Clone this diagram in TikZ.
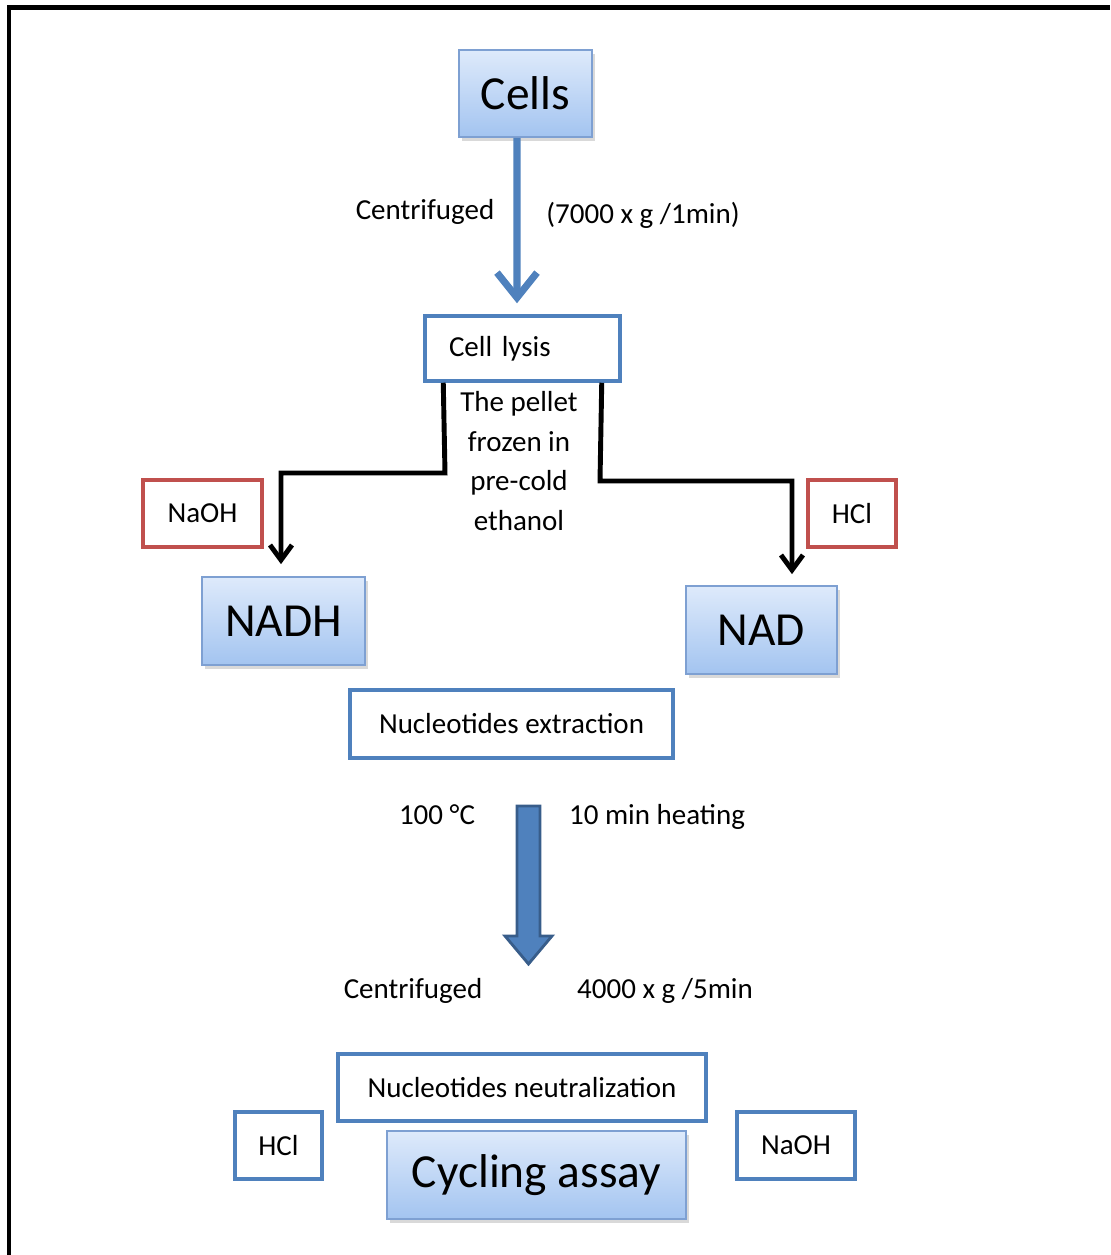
\documentclass[tikz,border=0pt]{standalone}
\usepackage{fontspec}
\setmainfont{Carlito}
\usepackage{tikz}
\usetikzlibrary{shapes, arrows.meta, shadows}
\definecolor{bluetop}{RGB}{222,234,251}
\definecolor{bluebot}{RGB}{163,196,240}
\definecolor{blueedge}{RGB}{126,160,210}
\definecolor{boxblue}{RGB}{79,129,189}
\definecolor{boxred}{RGB}{192,80,77}
\definecolor{darkblue}{RGB}{56,93,138}
\tikzstyle{block} = [draw=blueedge, line width=1pt, top color=bluetop, bottom color=bluebot, font=\fontsize{27}{32}\selectfont, drop shadow={shadow xshift=1.5pt, shadow yshift=-2pt, opacity=0.3}]
\tikzstyle{stepbox} = [draw=boxblue, line width=2pt, fill=white, font=\fontsize{16.5}{20}\selectfont]
\tikzstyle{reagent} = [draw=boxred, line width=2pt, fill=white, font=\fontsize{16.5}{20}\selectfont]
\tikzstyle{lbl} = [font=\fontsize{16.5}{20}\selectfont]

\begin{document}
\begin{tikzpicture}[x=0.02cm, y=-0.02cm, >={Straight Barb[length=0.3cm, width=0.44cm]}]
    % 样式
    \tikzstyle{bluearrow} = [draw=boxblue, line width=4pt, -{Straight Barb[length=0.5cm, width=0.8cm]}]
    \tikzstyle{blackarrow} = [draw=black, line width=2.8pt, ->]
    \useasboundingbox (0,0) rectangle (1110,1255);

    % 边框
    \draw [line width=0.1cm] (9,1255) -- (9,7) -- (1110,7);

    % 方框
    \node [block, minimum width=2.66cm, minimum height=1.74cm] (cells) at (525.5,93.5) {Cells};
    \node [stepbox, minimum width=3.9cm, minimum height=1.3cm, text width=2.94cm, inner xsep=0.48cm, align=left] (lysis) at (522.5,348.5) {Cell lysis};
    \node [reagent, minimum width=2.38cm, minimum height=1.34cm] (naoh1) at (202.5,513.5) {NaOH};
    \node [reagent, minimum width=1.76cm, minimum height=1.34cm] (hcl1) at (852,513.5) {HCl};
    \node [block, minimum width=3.26cm, minimum height=1.76cm] (nadh) at (283.5,621) {NADH};
    \node [block, minimum width=3.02cm, minimum height=1.76cm] (nad) at (761.5,630) {NAD};
    \node [stepbox, minimum width=6.46cm, minimum height=1.36cm] (extract) at (511.5,724) {Nucleotides extraction};
    \node [stepbox, minimum width=7.36cm, minimum height=1.34cm] (neutral) at (522,1087.5) {Nucleotides neutralization};
    \node [block, minimum width=5.98cm, minimum height=1.76cm] (cycling) at (536.5,1175) {Cycling assay};
    \node [stepbox, minimum width=1.74cm, minimum height=1.34cm] (hcl2) at (278.5,1145.5) {HCl};
    \node [stepbox, minimum width=2.36cm, minimum height=1.34cm] (naoh2) at (796,1145.5) {NaOH};

    % 文字
    \node [lbl] (cent1) at (425,212) {Centrifuged};
    \node [lbl] (speed1) at (643,215) {(7000 x g /1min)};
    \node [lbl, align=center, font=\fontsize{16.5}{22.7}\selectfont] (pellet) at (519,461) {The pellet\\frozen in\\pre-cold\\ethanol};
    \node [lbl] (temp) at (437,815) {100 °C};
    \node [lbl] (heat) at (657,817) {10 min heating};
    \node [lbl] (cent2) at (413,991) {Centrifuged};
    \node [lbl] (speed2) at (665,991) {4000 x g /5min};

    % 箭头
    \draw [bluearrow] ([xshift=-0.17cm]cells.south) -- ([xshift=-0.11cm, yshift=0.22cm]lysis.north);
    \coordinate (left) at (445,473);
    \coordinate (right) at (600,481);
    \draw [blackarrow] ([xshift=0.4cm]lysis.south west) -- (left) -| ([xshift=-0.05cm, yshift=0.24cm]nadh.north);
    \draw [blackarrow] ([xshift=-0.4cm]lysis.south east) -- (right) -| ([xshift=0.61cm, yshift=0.22cm]nad.north);
    \filldraw [fill=boxblue, draw=darkblue, line width=1.6pt, line join=miter]
        (517,806) -- (540,806) -- (540,936) -- (552,936) -- (528.5,964) -- (505,936) -- (517,936) -- cycle;
\end{tikzpicture}
\end{document}
